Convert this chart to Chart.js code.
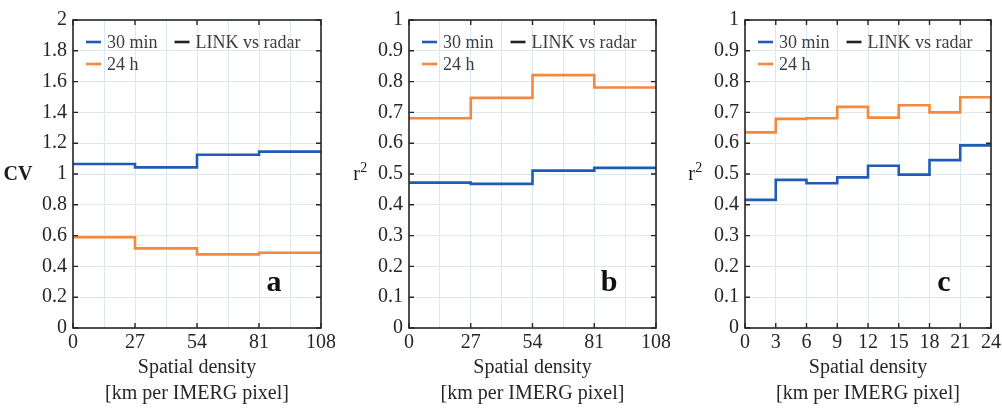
<!DOCTYPE html>
<html>
<head>
<meta charset="utf-8">
<script src="https://cdn.jsdelivr.net/npm/chart.js@4.4.1/dist/chart.umd.min.js"></script>
<style>
  html, body { margin: 0; padding: 0; background: #fff; }
  #wrap { position: relative; width: 1002px; height: 409px; overflow: hidden; }
  canvas { position: absolute; top: 0; }
</style>
</head>
<body>
<div id="wrap">
  <canvas id="chart-a" width="335" height="409" style="left:0"></canvas>
  <canvas id="chart-b" width="335" height="409" style="left:335px"></canvas>
  <canvas id="chart-c" width="332" height="409" style="left:670px"></canvas>
</div>
<script>
// bordes de los intervalos de densidad espacial
const binsAB = [0, 27, 54, 81, 108];
const binsC = [0, 3, 6, 9, 12, 15, 18, 21, 24];

// panel a: CV
const cv30min = [1.065, 1.043, 1.125, 1.145];
const cv24h = [0.589, 0.517, 0.478, 0.489];

// panel b: r2
const r2b30min = [0.472, 0.468, 0.511, 0.520];
const r2b24h = [0.681, 0.747, 0.821, 0.781];

// panel c: r2
const r2c30min = [0.416, 0.481, 0.470, 0.489, 0.527, 0.498, 0.545, 0.593];
const r2c24h = [0.635, 0.679, 0.681, 0.718, 0.683, 0.723, 0.700, 0.749];
const r2c24hTail = 0.702; // caída en el borde derecho

// etiquetas de los ejes
const xTicksAB = [0, 27, 54, 81, 108];
const xTicksC = [0, 3, 6, 9, 12, 15, 18, 21, 24];
const yTicksA = [0, 0.2, 0.4, 0.6, 0.8, 1, 1.2, 1.4, 1.6, 1.8, 2];
const yTicksR2 = [0, 0.1, 0.2, 0.3, 0.4, 0.5, 0.6, 0.7, 0.8, 0.9, 1];

const xTitle = ['Spatial density', '[km per IMERG pixel]'];
const labels = ['30 min', '24 h', 'LINK vs radar'];

const BLUE = '#1f5cb8';
const ORANGE = '#f5883f';
const SERIF = '"Liberation Serif", "Times New Roman", serif';

Chart.defaults.font.family = SERIF;
Chart.defaults.color = '#262626';

// puntos escalonados: cada valor empieza en el borde izquierdo de su intervalo
function steps(bins, values, tail) {
  const pts = values.map((v, i) => ({ x: bins[i], y: v }));
  pts.push({ x: bins[bins.length - 1], y: values[values.length - 1] });
  if (tail !== undefined) pts.push({ x: bins[bins.length - 1], y: tail });
  return pts;
}

// caja, marcas hacia dentro, leyenda, letra del panel y título del eje y
const frame = {
  id: 'frame',
  afterDatasetsDraw(chart, args, o) {
    const { ctx, chartArea: a, scales: { x, y } } = chart;
    ctx.save();
    ctx.strokeStyle = '#262626';
    ctx.lineWidth = 1.4;
    ctx.beginPath();
    o.xTicks.forEach(v => {
      const px = x.getPixelForValue(v);
      ctx.moveTo(px, a.bottom); ctx.lineTo(px, a.bottom - 5);
      ctx.moveTo(px, a.top); ctx.lineTo(px, a.top + 5);
    });
    o.yTicks.forEach(v => {
      const py = y.getPixelForValue(v);
      ctx.moveTo(a.left, py); ctx.lineTo(a.left + 5, py);
      ctx.moveTo(a.right, py); ctx.lineTo(a.right - 5, py);
    });
    ctx.stroke();
    ctx.lineWidth = 1.6;
    ctx.strokeRect(a.left, a.top, a.width, a.height);

    // leyenda en dos columnas (orden por columnas)
    ctx.font = '18px ' + SERIF;
    ctx.textBaseline = 'middle';
    ctx.textAlign = 'left';
    const ds = chart.data.datasets;
    const colW = Math.max(ctx.measureText(ds[0].label).width, ctx.measureText(ds[1].label).width);
    const col2 = 13 + 21 + colW + 17;
    ds.forEach((d, i) => {
      const col = Math.floor(i / 2), row = i % 2;
      const lx = a.left + (col === 0 ? 13 : col2);
      const ly = a.top + 22 + row * 22;
      ctx.strokeStyle = d.borderColor;
      ctx.lineWidth = 2.6;
      ctx.beginPath();
      ctx.moveTo(lx, ly); ctx.lineTo(lx + 15, ly);
      ctx.stroke();
      ctx.fillStyle = '#3c3c3c';
      ctx.fillText(d.label, lx + 21, ly + 1);
    });

    // letra del panel
    ctx.font = 'bold 30px ' + SERIF;
    ctx.fillStyle = '#111';
    ctx.textAlign = 'center';
    ctx.fillText(o.letter, a.right - 47, a.bottom - 45);

    // título del eje y (horizontal), con superíndice opcional
    const cy = (a.top + a.bottom) / 2 + 1;
    ctx.fillStyle = '#1a1a1a';
    ctx.font = (o.yBold ? 'bold ' : '') + '20px ' + SERIF;
    if (o.ySup) {
      const wBase = ctx.measureText(o.yTitle).width;
      ctx.font = '14px ' + SERIF;
      const wSup = ctx.measureText(o.ySup).width;
      const x0 = o.yTitleX - (wBase + wSup) / 2;
      ctx.textAlign = 'left';
      ctx.fillText(o.ySup, x0 + wBase + 0.5, cy - 7);
      ctx.font = '20px ' + SERIF;
      ctx.fillText(o.yTitle, x0, cy);
    } else {
      ctx.fillText(o.yTitle, o.yTitleX, cy);
    }
    ctx.restore();
  }
};

function makePanel(id, cfg) {
  const { bins, s30, s24, yMax, yTicks, xTicks, halfGrid, letter, yTitle, ySup, yBold, yTitleX, padLeft, yWidth, padRight } = cfg;
  new Chart(document.getElementById(id), {
    type: 'line',
    data: {
      datasets: [
        { label: labels[0], data: s30, borderColor: BLUE, borderWidth: 2.6, stepped: 'before', pointRadius: 0, fill: false },
        { label: labels[1], data: s24, borderColor: ORANGE, borderWidth: 2.6, stepped: 'before', pointRadius: 0, fill: false },
        { label: labels[2], data: [], borderColor: '#222', borderWidth: 2.6, pointRadius: 0 }
      ]
    },
    options: {
      responsive: false,
      animation: false,
      layout: { padding: { left: padLeft, right: padRight, top: 20, bottom: 0 } },
      plugins: {
        legend: { display: false },
        tooltip: { enabled: false },
        frame: { xTicks, yTicks, letter, yTitle, ySup, yBold, yTitleX }
      },
      scales: {
        x: {
          type: 'linear',
          min: bins[0],
          max: bins[bins.length - 1],
          afterBuildTicks: s => {
            const vals = [];
            xTicks.forEach((v, i) => {
              vals.push(v);
              if (halfGrid && i < xTicks.length - 1) vals.push((v + xTicks[i + 1]) / 2);
            });
            s.ticks = vals.map(v => ({ value: v }));
          },
          afterFit: s => { s.height = 81; s.paddingLeft = 0; s.paddingRight = 0; },
          grid: { color: '#dbe8ee', lineWidth: 1, drawTicks: false },
          border: { display: false },
          ticks: {
            autoSkip: false, maxRotation: 0, padding: 3,
            font: { size: 20 }, color: '#262626',
            callback: v => xTicks.includes(v) ? String(v) : ''
          },
          title: {
            display: true, text: xTitle, color: '#262626',
            font: { size: 20, lineHeight: 1.3 }, padding: { top: 0, bottom: 2 }
          }
        },
        y: {
          min: 0,
          max: yMax,
          afterBuildTicks: s => { s.ticks = yTicks.map(v => ({ value: v })); },
          afterFit: s => { s.width = yWidth; s.paddingTop = 0; s.paddingBottom = 0; },
          grid: { color: '#dbe8ee', lineWidth: 1, drawTicks: false },
          border: { display: false },
          ticks: { padding: 6, font: { size: 20 }, color: '#262626', callback: v => String(v) }
        }
      }
    },
    plugins: [frame]
  });
}

makePanel('chart-a', {
  bins: binsAB, s30: steps(binsAB, cv30min), s24: steps(binsAB, cv24h),
  yMax: 2, yTicks: yTicksA, xTicks: xTicksAB, halfGrid: true,
  letter: 'a', yTitle: 'CV', yBold: true, yTitleX: 18,
  padLeft: 0, yWidth: 73, padRight: 14
});

makePanel('chart-b', {
  bins: binsAB, s30: steps(binsAB, r2b30min), s24: steps(binsAB, r2b24h),
  yMax: 1, yTicks: yTicksR2, xTicks: xTicksAB, halfGrid: true,
  letter: 'b', yTitle: 'r', ySup: '2', yBold: false, yTitleX: 25,
  padLeft: 0, yWidth: 74, padRight: 14
});

makePanel('chart-c', {
  bins: binsC, s30: steps(binsC, r2c30min), s24: steps(binsC, r2c24h, r2c24hTail),
  yMax: 1, yTicks: yTicksR2, xTicks: xTicksC, halfGrid: false,
  letter: 'c', yTitle: 'r', ySup: '2', yBold: false, yTitleX: 25,
  padLeft: 0, yWidth: 75, padRight: 11
});
</script>
</body>
</html>
